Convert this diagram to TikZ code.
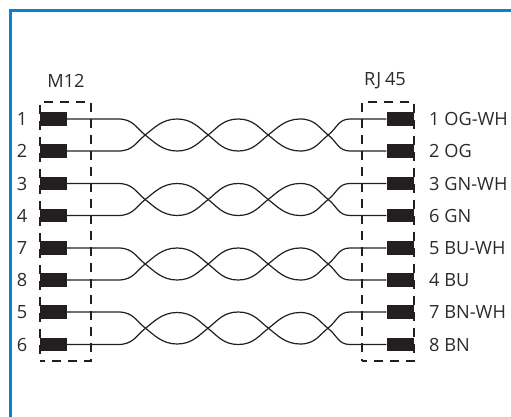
\documentclass[tikz,border=0pt]{standalone}
\usepackage{fontspec}
\setmainfont{Open Sans}
\definecolor{frameblue}{HTML}{0A80D2}
\definecolor{pinblack}{HTML}{231F20}
\definecolor{labelgrey}{HTML}{2B2B2B}
\tikzset{
  pin/.style={rectangle,fill=pinblack,draw=none,inner sep=0pt,minimum width=27.5pt,minimum height=13.5pt},
  wire/.style={draw=pinblack,line width=1.2pt},
  group/.style={rectangle,draw=pinblack,line width=1.05pt,dash pattern=on 9pt off 7pt,dash phase=4pt,inner sep=0pt},
  lab/.style={text=labelgrey,font=\fontsize{18.2}{20}\selectfont,inner sep=0pt},
  rlab/.style={lab,anchor=west},
}
\newcommand{\twistpair}[4]{%
  \draw[wire] (#1.east) -- ++(51,0)
    .. controls +(15,0) and +(-9,-7) .. ++(27,16)
    .. controls +(9,7) and +(-15,0) .. ++(32,16)
    .. controls +(15,0) and +(-9,7) .. ++(31,-16)
    .. controls +(9,-7) and +(-15,0) .. ++(30,-16)
    .. controls +(15,0) and +(-9,-7) .. ++(30,16)
    .. controls +(9,7) and +(-15,0) .. ++(32,16)
    .. controls +(15,0) and +(-9,7) .. ++(28,-16)
    .. controls +(9,-7) and +(-12,0) .. ++(22,-16) -- (#3.west);
  \draw[wire] (#2.east) -- ++(51,0)
    .. controls +(15,0) and +(-9,7) .. ++(27,-16)
    .. controls +(9,-7) and +(-15,0) .. ++(32,-16)
    .. controls +(15,0) and +(-9,-7) .. ++(31,16)
    .. controls +(9,7) and +(-15,0) .. ++(30,16)
    .. controls +(15,0) and +(-9,7) .. ++(30,-16)
    .. controls +(9,-7) and +(-15,0) .. ++(32,-16)
    .. controls +(15,0) and +(-9,-7) .. ++(28,16)
    .. controls +(9,7) and +(-12,0) .. ++(22,16) -- (#4.west);
}
\begin{document}
\begin{tikzpicture}[x=1pt,y=-1pt]
\useasboundingbox (0,0) rectangle (511,417);
\draw[frameblue,line width=2.6pt] (511,10.7) -- (10.7,10.7) -- (10.7,417);
\node[group,minimum width=51pt,minimum height=259pt] (boxL) at (65.5,231.5) {};
\node[group,minimum width=52pt,minimum height=259pt] (boxR) at (388,231.5) {};
\node[lab] (titleL) at (66,81) {M12};
\node[lab] (titleR) at (385,81) {R\kern1pt J\kern-1pt\ 45};
\foreach \n/\y/\l/\r in {1/119/1/1 OG-WH,2/151/2/2 OG,3/183.5/3/3 GN-WH,4/215.5/4/6 GN,5/248/7/5 BU-WH,6/280/8/4 BU,7/312/5/7 BN-WH,8/344.5/6/8 BN}{
  \node[pin] (L\n) at (53.25,\y) {};
  \node[pin] (R\n) at (400.25,\y) {};
  \node[lab] (LT\n) at (22,\y) {\l};
  \node[rlab] (RT\n) at (429,\y) {\r};
}
\twistpair{L1}{L2}{R1}{R2}
\twistpair{L3}{L4}{R3}{R4}
\twistpair{L5}{L6}{R5}{R6}
\twistpair{L7}{L8}{R7}{R8}
\end{tikzpicture}
\end{document}
